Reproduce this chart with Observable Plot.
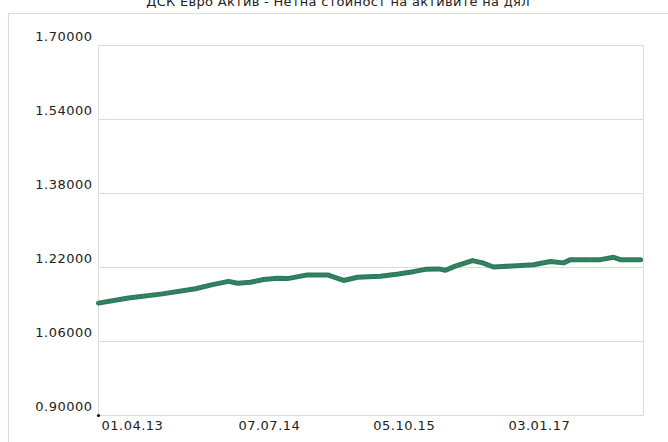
<!DOCTYPE html>
<html>
<head>
<meta charset="utf-8">
<script src="https://cdn.jsdelivr.net/npm/d3@7"></script>
<script src="https://cdn.jsdelivr.net/npm/@observablehq/plot@0.6"></script>
<style>
  html, body { margin: 0; padding: 0; background: #fff; }
  #wrap { position: relative; width: 668px; height: 442px; overflow: hidden; background: #fff; }
  #frame { position: absolute; left: 8px; top: 13px; width: 700px; height: 500px;
           border-left: 1px solid #d6dfd6; border-top: 1px solid #d6dfd6; }
  #title { position: absolute; left: 0; width: 676px; top: -6px; text-align: center;
           font: 13px "DejaVu Sans", Verdana, sans-serif; letter-spacing: 0.3px; color: #222; }
  #chart { position: absolute; left: 0; top: 0; }
</style>
</head>
<body>
<div id="wrap">
  <div id="frame"></div>
  <div id="title">ДСК Евро Актив - Нетна стойност на активите на дял</div>
  <div id="chart"></div>
</div>
<script>
const title = "ДСК Евро Актив - Нетна стойност на активите на дял";

const dates = [
  "2013-04-01","2013-07-11","2013-11-03","2014-02-22","2014-04-21","2014-06-14",
  "2014-07-14","2014-08-27","2014-10-10","2014-11-26","2014-12-30","2015-03-07",
  "2015-05-14","2015-07-07","2015-08-23","2015-11-08","2016-01-08","2016-02-27",
  "2016-04-08","2016-05-22","2016-06-15","2016-07-18","2016-09-14","2016-10-18",
  "2016-11-24","2016-12-24","2017-04-08","2017-06-04","2017-07-18","2017-08-11",
  "2017-11-20","2018-01-03","2018-01-26","2018-04-04"
];
const values = [
  1.143, 1.154, 1.163, 1.174, 1.183, 1.190,
  1.186, 1.188, 1.194, 1.197, 1.196, 1.204,
  1.204, 1.192, 1.199, 1.201, 1.206, 1.211,
  1.216, 1.217, 1.214, 1.223, 1.235, 1.230,
  1.221, 1.222, 1.226, 1.233, 1.230, 1.237,
  1.237, 1.242, 1.237, 1.237
];

const yTicks = [0.90, 1.06, 1.22, 1.38, 1.54, 1.70];
const xTickLabels = ["01.04.13", "07.07.14", "05.10.15", "03.01.17"];
const xDomainLabels = ["01.04.13", "14.04.18"];

const parseIso = d3.utcParse("%Y-%m-%d");
const parseLabel = d3.utcParse("%d.%m.%y");
const fmtLabel = d3.utcFormat("%d.%m.%y");

const data = dates.map((d, i) => ({date: parseIso(d), value: values[i]}));
const xTicks = xTickLabels.map(parseLabel);
const xDomain = xDomainLabels.map(parseLabel);
const origin = [{date: xDomain[0], value: yTicks[0]}];

const font = '"DejaVu Sans", Verdana, sans-serif';

const chart = Plot.plot({
  width: 668,
  height: 442,
  marginLeft: 98,
  marginRight: 25,
  marginTop: 45,
  marginBottom: 27,
  style: {fontFamily: font, fontSize: "13px", color: "#222", background: "transparent", letterSpacing: "0.5px"},
  x: {type: "utc", domain: xDomain},
  y: {domain: [yTicks[0], yTicks[yTicks.length - 1]]},
  marks: [
    Plot.gridY(yTicks, {stroke: "#d6dfd6", strokeOpacity: 1, strokeWidth: 1}),
    Plot.frame({stroke: "#d6dfd6", strokeWidth: 1}),
    Plot.axisY(yTicks, {
      tickSize: 0, tickPadding: 6, dy: -9,
      tickFormat: d3.format(".5f"), label: null, fill: "#222"
    }),
    Plot.axisX(xTicks, {
      tickSize: 0, tickPadding: 5, textAnchor: "start", dx: 3,
      tickFormat: fmtLabel, label: null, fill: "#222"
    }),
    Plot.line(data, {x: "date", y: "value", stroke: "#2e7b5c", strokeWidth: 5,
      strokeLinejoin: "round", strokeLinecap: "round"}),
    Plot.line(data, {x: "date", y: "value", stroke: "#4a9a78", strokeWidth: 1.2,
      strokeDasharray: "1.5,2.5", strokeOpacity: 0.6}),
    Plot.dot(origin, {x: "date", y: "value", r: 1.6, fill: "#111", stroke: "none"})
  ]
});
document.getElementById("chart").appendChild(chart);
</script>
</body>
</html>
